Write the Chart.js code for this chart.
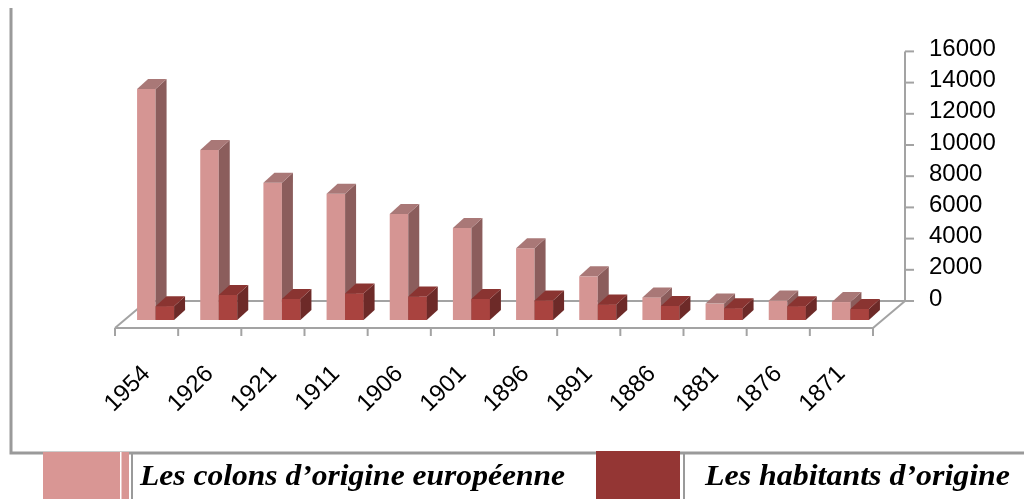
<!DOCTYPE html>
<html>
<head>
<meta charset="utf-8">
<script src="https://cdn.jsdelivr.net/npm/chart.js@4.4.1/dist/chart.umd.min.js"></script>
<style>
  html, body { margin: 0; padding: 0; background: #fff; overflow: hidden; }
  #wrap { width: 1024px; height: 499px; position: relative; }
</style>
</head>
<body>
<div id="wrap"><canvas id="colonsChart"></canvas></div>
<script>
const years = ['1954', '1926', '1921', '1911', '1906', '1901', '1896', '1891', '1886', '1881', '1876', '1871'];
const colonsEuropeens = [14800, 10900, 8800, 8100, 6800, 5900, 4600, 2800, 1450, 1050, 1250, 1150];
const habitantsOrigine = [880, 1600, 1350, 1700, 1500, 1350, 1250, 1000, 900, 750, 880, 700];
const seriesNames = ['Les colons d\u2019origine europ\u00e9enne', 'Les habitants d\u2019origine'];
const yMax = 16000;
const yStep = 2000;

// couleurs (face avant, côté, dessus, légende)
const pink = { front: '#d59593', side: '#8b5d5c', top: '#a97877', legend: '#d99694' };
const red = { front: '#a9433f', side: '#6d2a28', top: '#8a3431', legend: '#943634' };

const floorDepth = { x: 32, y: -27 };
const barDepth = { x: 11, y: -10 };
const barShift = 9;
const gray = '#a3a3a3';

function line(ctx, x1, y1, x2, y2) {
  ctx.beginPath();
  ctx.moveTo(x1, y1);
  ctx.lineTo(x2, y2);
  ctx.stroke();
}

function poly(ctx, pts) {
  ctx.beginPath();
  ctx.moveTo(pts[0][0], pts[0][1]);
  pts.slice(1).forEach(p => ctx.lineTo(p[0], p[1]));
  ctx.closePath();
  ctx.fill();
}

function drawFaces(ctx, ds, bar) {
  const p = bar.getProps(['x', 'y', 'base', 'width'], true);
  const l = p.x - p.width / 2, r = p.x + p.width / 2;
  ctx.fillStyle = ds.sideColor;
  poly(ctx, [[r, p.y], [r + barDepth.x, p.y + barDepth.y], [r + barDepth.x, p.base + barDepth.y], [r, p.base]]);
  ctx.fillStyle = ds.topColor;
  poly(ctx, [[l, p.y], [l + barDepth.x, p.y + barDepth.y], [r + barDepth.x, p.y + barDepth.y], [r, p.y]]);
}

// sol + mur (axe de droite) en pseudo 3D
const floorPlugin = {
  id: 'floor3d',
  beforeDatasetsDraw(chart) {
    const ctx = chart.ctx;
    const xs = chart.scales.x, ys = chart.scales.y;
    const front = ys.getPixelForValue(0) + 8;
    const back = front + floorDepth.y;
    const L = xs.left, R = xs.right;
    ctx.save();
    ctx.strokeStyle = gray;
    ctx.lineWidth = 2;
    line(ctx, L, front, R, front);
    line(ctx, L, front, L + floorDepth.x, back);
    line(ctx, R, front, R + floorDepth.x, back);
    line(ctx, L + floorDepth.x, back, R + floorDepth.x, back);
    for (let i = 0; i <= years.length; i++) {
      const bx = xs.getPixelForValue(i - 0.5);
      line(ctx, bx, front, bx, front + 8);
    }
    const wx = R + floorDepth.x;
    const wallOff = back - ys.getPixelForValue(0);
    line(ctx, wx, back, wx, ys.getPixelForValue(yMax) + wallOff);
    ys.ticks.forEach(t => {
      const ty = ys.getPixelForValue(t.value) + wallOff;
      line(ctx, wx, ty, wx + 9, ty);
    });
    ctx.restore();
    ctx.save();
    ctx.translate(barShift, 0);
  },
  afterDatasetsDraw(chart) {
    const ctx = chart.ctx;
    const ds = chart.data.datasets;
    // colons : côtés + dessus
    chart.getDatasetMeta(0).data.forEach(bar => drawFaces(ctx, ds[0], bar));
    // habitants : redessinés devant
    chart.getDatasetMeta(1).data.forEach(bar => {
      bar.draw(ctx);
      drawFaces(ctx, ds[1], bar);
    });
    ctx.restore();
  }
};

// cadre + légende dessinés à la main
const legendPlugin = {
  id: 'legendBoxes',
  afterDraw(chart) {
    const ctx = chart.ctx;
    const ds = chart.data.datasets;
    ctx.save();
    ctx.strokeStyle = '#9a9a9a';
    ctx.lineWidth = 3;
    ctx.beginPath();
    ctx.moveTo(11, 8);
    ctx.lineTo(11, 453);
    ctx.lineTo(1024, 453);
    ctx.stroke();

    ctx.fillStyle = ds[0].legendColor;
    ctx.fillRect(43, 452, 86, 47);
    ctx.fillStyle = '#ffffff';
    ctx.fillRect(120, 452, 1.5, 47);
    ctx.fillStyle = ds[1].legendColor;
    ctx.fillRect(596, 451, 84, 48);

    ctx.lineWidth = 2;
    line(ctx, 132, 453, 132, 499);
    line(ctx, 684, 453, 684, 499);

    ctx.fillStyle = '#000';
    ctx.textBaseline = 'alphabetic';
    ctx.font = 'italic bold 30px "Liberation Serif", "DejaVu Serif", serif';
    [[ds[0].label, 140, 565], [ds[1].label, 705, 1010]].forEach(([txt, x0, x1]) => {
      const w = ctx.measureText(txt).width;
      ctx.save();
      ctx.translate(x0, 485);
      ctx.scale((x1 - x0) / w, 1);
      ctx.fillText(txt, 0, 0);
      ctx.restore();
    });
    ctx.restore();
  }
};

document.addEventListener('DOMContentLoaded', () => {
  const ctx = document.getElementById('colonsChart').getContext('2d');
  new Chart(ctx, {
    type: 'bar',
    data: {
      labels: years,
      datasets: [{
        label: seriesNames[0],
        data: colonsEuropeens,
        backgroundColor: pink.front,
        sideColor: pink.side,
        topColor: pink.top,
        legendColor: pink.legend
      }, {
        label: seriesNames[1],
        data: habitantsOrigine,
        backgroundColor: red.front,
        sideColor: red.side,
        topColor: red.top,
        legendColor: red.legend
      }]
    },
    options: {
      responsive: true,
      maintainAspectRatio: false,
      animation: false,
      layout: { padding: { left: 115, top: 67, right: 0, bottom: 0 } },
      datasets: { bar: { categoryPercentage: 0.586, barPercentage: 1, clip: false } },
      plugins: { legend: { display: false }, tooltip: { enabled: false } },
      scales: {
        x: {
          grid: { display: false, drawTicks: false },
          border: { display: false },
          ticks: {
            color: '#000',
            font: { family: '"Liberation Sans", Arial, sans-serif', size: 24 },
            minRotation: 45,
            maxRotation: 45,
            autoSkip: false,
            padding: 40
          },
          afterFit: scale => { scale.height = 179; }
        },
        y: {
          position: 'right',
          min: 0,
          max: yMax,
          grid: { display: false, drawTicks: false },
          border: { display: false },
          ticks: {
            stepSize: yStep,
            autoSkip: false,
            color: '#000',
            font: { family: '"Liberation Sans", Arial, sans-serif', size: 24 },
            padding: 56,
            labelOffset: -21,
            callback: v => String(v)
          },
          afterFit: scale => { scale.width = 151; }
        }
      }
    },
    plugins: [floorPlugin, legendPlugin]
  });
});
</script>
</body>
</html>
